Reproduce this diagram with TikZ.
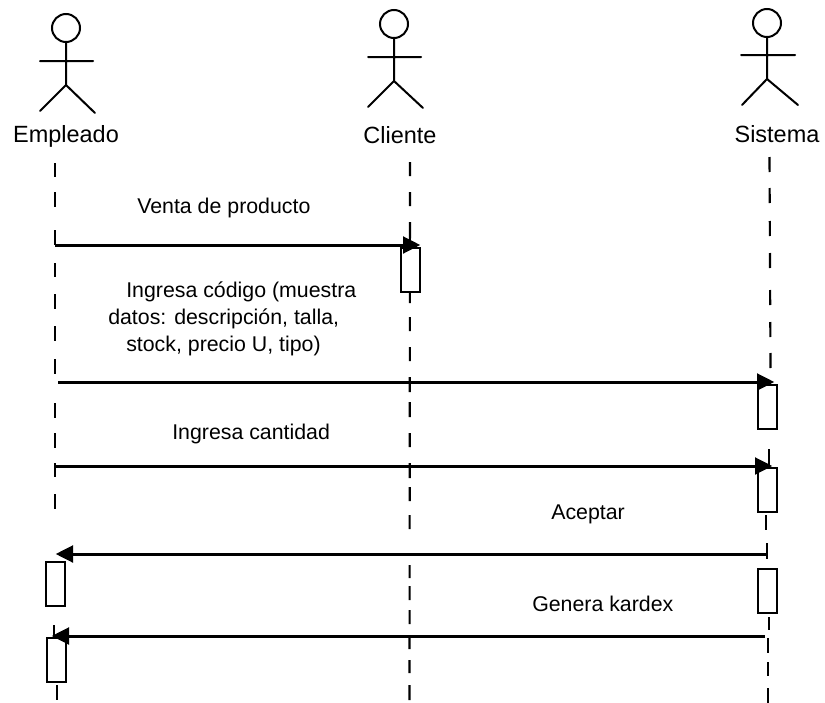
\documentclass[tikz,border=0pt]{standalone}
\usepackage{fontspec}
\setmainfont{Liberation Sans}
\usetikzlibrary{arrows.meta}
\tikzset{
  x=0.75pt,y=-0.75pt,
  figure/.style={line width=1.5pt,line cap=round,black},
  head/.style={circle,draw,line width=1.5pt,inner sep=0pt,minimum size=21pt},
  actorname/.style={anchor=base,inner sep=0pt,font=\fontsize{17.6pt}{20pt}\selectfont},
  msg/.style={anchor=base west,inner sep=0pt,font=\fontsize{16pt}{18pt}\selectfont},
  lifeline/.style={line width=1.6pt},
  activation/.style={rectangle,draw,fill=white,line width=1.6pt,inner sep=0pt,minimum width=14.2pt,minimum height=33pt},
  call/.style={line width=2.25pt,-{Triangle[length=13pt,width=12.5pt]},shorten >=-1pt},
}
\begin{document}
\begin{tikzpicture}
\useasboundingbox (0,0) rectangle (825,703);
\fill[white] (0,0) rectangle (825,703);

% lifeline anchors
\coordinate (e0) at (55,163); \coordinate (e1) at (55,542);
\coordinate (e2) at (54,625); \coordinate (e3) at (54,638);
\coordinate (e4) at (57,685); \coordinate (e5) at (57,700);
\coordinate (c0) at (410,162); \coordinate (c1) at (409.5,700);
\coordinate (s0) at (769.5,157); \coordinate (s1) at (770.5,368);
\coordinate (s2) at (769,449); \coordinate (s3) at (769,467);
\coordinate (s4) at (766,515); \coordinate (s5) at (766,530);
\coordinate (s6) at (767,543); \coordinate (s7) at (767,559);
\coordinate (s8) at (769,617); \coordinate (s9) at (769,630);
\coordinate (s10) at (768,638); \coordinate (s11) at (768,703);

\draw[lifeline,dash pattern=on 10.5pt off 11.25pt on 11.25pt off 17.25pt on 11.25pt off 13.5pt on 10.5pt off 12.75pt on 11.25pt off 12.75pt on 11.25pt off 13.5pt on 11.25pt off 21.75pt on 11.25pt off 11.25pt on 11.25pt off 11.25pt on 10.5pt off 12.75pt on 11.25pt off 100pt] (e0) -- (e1);
\draw[lifeline] (e2) -- (e3);
\draw[lifeline] (e4) -- (e5);
\draw[lifeline,dash pattern=on 10.5pt off 12pt on 10.5pt off 12pt on 13.5pt off 36pt on 11.25pt off 10.5pt on 10.5pt off 12pt on 10.5pt off 12pt on 11.25pt off 7.5pt on 11.25pt off 12pt on 10.5pt off 12pt on 11.25pt off 6.75pt on 10.5pt off 10.5pt on 10.5pt off 27pt on 9.75pt off 6pt on 10.5pt off 7.5pt on 10.5pt off 8.25pt on 10.5pt off 8.25pt on 9.75pt off 9pt on 11.25pt off 100pt] (c0) -- (c1);
\draw[lifeline,dash pattern=on 11.25pt off 12pt on 11.25pt off 13.5pt on 11.25pt off 12.75pt on 11.25pt off 16.5pt on 11.25pt off 12.75pt on 11.25pt off 12pt on 11.25pt off 100pt] (s0) -- (s1);
\draw[lifeline] (s2) -- (s3);
\draw[lifeline] (s4) -- (s5);
\draw[lifeline] (s6) -- (s7);
\draw[lifeline] (s8) -- (s9);
\draw[lifeline,dash pattern=on 11.25pt off 6.75pt on 10.5pt off 9pt on 11.25pt off 100pt] (s10) -- (s11);

% actors
\node[head] (hE) at (66,28) {};
\coordinate (hipE) at (66,85);
\coordinate (laE) at (40,61); \coordinate (raE) at (93,61);
\coordinate (llE) at (40,111); \coordinate (rlE) at (95,113);
\draw[figure] (hE) -- (hipE) (laE) -- (raE) (llE) -- (hipE) -- (rlE);
\node[actorname] (nameE) at (66,142) {Empleado};

\node[head] (hC) at (394,24) {};
\coordinate (hipC) at (394,81);
\coordinate (laC) at (368,57); \coordinate (raC) at (421,57);
\coordinate (llC) at (368,107); \coordinate (rlC) at (423,108);
\draw[figure] (hC) -- (hipC) (laC) -- (raC) (llC) -- (hipC) -- (rlC);
\node[actorname] (nameC) at (400,143) {Cliente};

\node[head] (hS) at (767,23) {};
\coordinate (hipS) at (767,79);
\coordinate (laS) at (741,55); \coordinate (raS) at (795,55);
\coordinate (llS) at (742,105); \coordinate (rlS) at (798,105);
\draw[figure] (hS) -- (hipS) (laS) -- (raS) (llS) -- (hipS) -- (rlS);
\node[actorname] (nameS) at (777,142) {Sistema};

% activations
\node[activation] (aC) at (410.5,270) {};
\node[activation] (aS1) at (767.5,407) {};
\node[activation] (aS2) at (767.3,490.3) {};
\node[activation] (aS3) at (767.5,591) {};
\node[activation] (aE1) at (55.5,584) {};
\node[activation] (aE2) at (56.5,660) {};

% messages
\coordinate (m1a) at (55,245); \coordinate (m1b) at (419,245);
\coordinate (m2a) at (58,382); \coordinate (m2b) at (773,382);
\coordinate (m3a) at (56,466); \coordinate (m3b) at (771,466);
\coordinate (m4a) at (767,554); \coordinate (m4b) at (57,554);
\coordinate (m5a) at (765,636); \coordinate (m5b) at (53,636);
\draw[call] (m1a) -- (m1b);
\draw[call] (m2a) -- (m2b);
\draw[call] (m3a) -- (m3b);
\draw[call] (m4a) -- (m4b);
\draw[call] (m5a) -- (m5b);

% labels
\node[msg] (t1) at (137,213) {Venta de producto};
\node[msg] (t2) at (126,297) {Ingresa código (muestra};
\node[msg] (t3) at (108,324) {datos: descripción, talla,};
\node[msg] (t4) at (126,351) {stock, precio U, tipo)};
\node[msg] (t5) at (172,439) {Ingresa cantidad};
\node[msg] (t6) at (551,519) {Aceptar};
\node[msg] (t7) at (532,611) {Genera kardex};
\end{tikzpicture}
\end{document}
